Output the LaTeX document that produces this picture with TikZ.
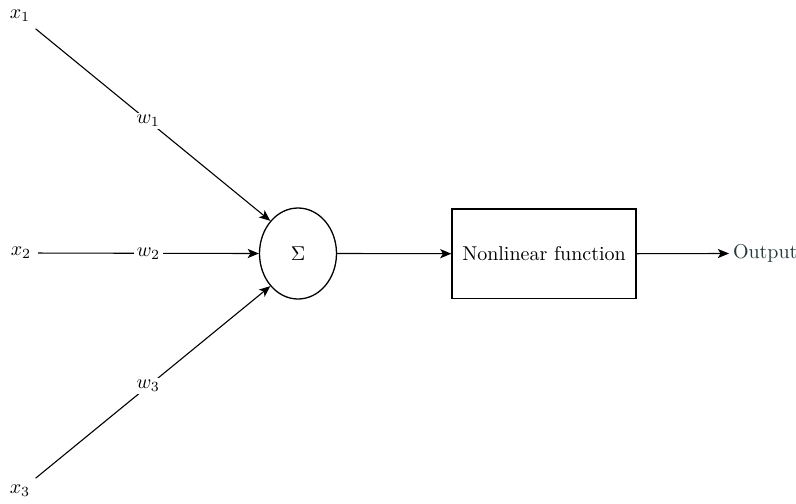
\documentclass[tikz,border=0pt]{standalone}
\usetikzlibrary{shapes.geometric,arrows.meta}
\definecolor{outcol}{RGB}{35,57,59}
\begin{document}
\begin{tikzpicture}[x=0.5pt,y=-0.5pt,
  lbl/.style={inner sep=3.3pt,font=\fontsize{10.4}{12}\selectfont},
  wlbl/.style={fill=white,inner sep=1.2pt,font=\fontsize{10.4}{12}\selectfont},
  conn/.style={line width=0.55pt,-{Stealth[length=5.6pt,width=4.6pt,inset=1.4pt]}},
  sumnode/.style={draw,ellipse,line width=0.65pt,minimum width=38.5pt,minimum height=45.5pt,inner sep=0pt},
  fbox/.style={draw,rectangle,line width=0.65pt,minimum width=92pt,minimum height=44.6pt,inner sep=0pt,font=\fontsize{10}{12}\selectfont}]
\useasboundingbox (0,0) rectangle (796,503);
\node[lbl] (x1) at (20,16) {$x_1$};
\node[lbl] (x2) at (21,253) {$x_2$};
\node[lbl] (x3) at (20,491) {$x_3$};
\node[sumnode] (sum) at (298,253.5) {$\Sigma$};
\node[fbox] (nf) at (544,253.7) {Nonlinear function};
\node[anchor=west,inner sep=1.8pt,text=outcol,font=\fontsize{10}{12}\selectfont] (out) at (729,253.5) {Output};
\draw[conn] (x1) -- node[wlbl,pos=0.48]{$w_1$} (sum.north west);
\draw[conn] (x2) -- node[wlbl]{$w_2$} (sum.west);
\draw[conn] (x3) -- node[wlbl,pos=0.48]{$w_3$} (sum.south west);
\draw[conn] (sum.east) -- (nf.west);
\draw[conn] (nf.east) -- (out.west);
\end{tikzpicture}
\end{document}
